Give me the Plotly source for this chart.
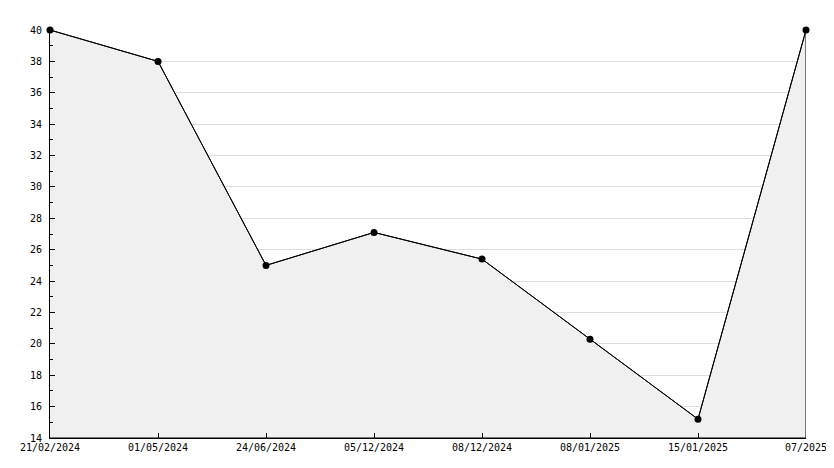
import plotly.graph_objects as go

categories = ["21/02/2024", "01/05/2024", "24/06/2024", "05/12/2024",
              "08/12/2024", "08/01/2025", "15/01/2025", "07/2025"]
values = [40, 38, 25, 27.1, 25.4, 20.3, 15.2, 40]
y_min, y_max = 14, 40

idx = list(range(len(categories)))

fig = go.Figure()
# filled area polygon (with black edge on the right side)
fig.add_trace(go.Scatter(
    x=idx + [idx[-1], idx[0]],
    y=values + [y_min, y_min],
    mode="lines", fill="toself", fillcolor="#f0f0f0",
    line=dict(color="black", width=1), hoverinfo="skip", showlegend=False))
fig.add_trace(go.Scatter(
    x=idx, y=values, mode="lines+markers",
    line=dict(color="black", width=1),
    marker=dict(symbol="circle", size=7, color="black"),
    showlegend=False, cliponaxis=False))

font = dict(family="DejaVu Sans Mono", size=10, color="black")
fig.update_layout(
    width=834, height=468,
    margin=dict(l=42, r=36, t=22, b=38, autoexpand=False),
    paper_bgcolor="white", plot_bgcolor="white",
    font=font,
    xaxis=dict(
        range=[0, len(categories) - 1], tickmode="array",
        tickvals=idx, ticktext=categories, automargin=False,
        showgrid=False, zeroline=False,
        showline=True, linecolor="black", linewidth=1,
        ticks="inside", ticklen=5, tickcolor="black",
        tickfont=font),
    yaxis=dict(
        range=[y_min, y_max], dtick=2, tick0=14, automargin=False,
        showgrid=True, gridcolor="#dddddd", gridwidth=1,
        zeroline=False,
        showline=True, linecolor="black", linewidth=1,
        ticks="inside", ticklen=5, tickcolor="black",
        ticklabelstandoff=5,
        minor=dict(dtick=1, ticks="inside", ticklen=3, tickcolor="black", showgrid=False),
        tickfont=font),
)
fig.write_html("out.html")
